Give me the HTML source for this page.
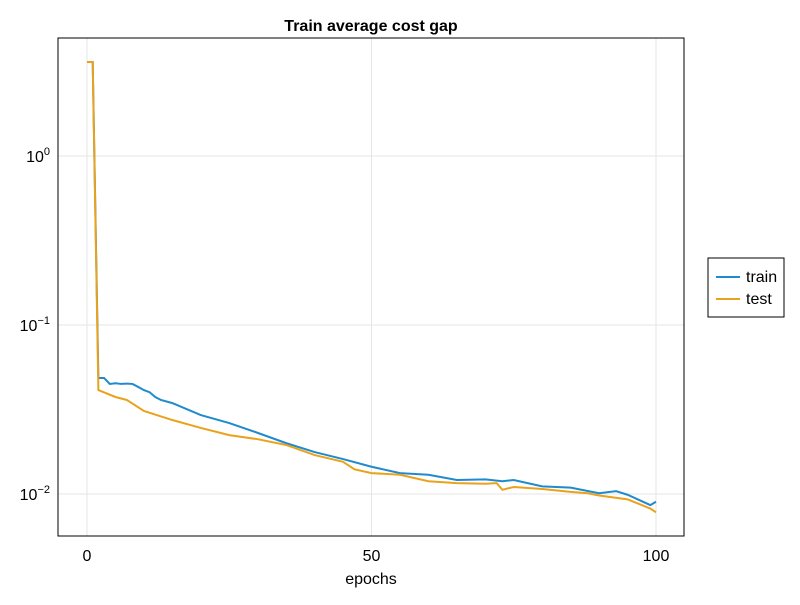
<!DOCTYPE html>
<html><head><meta charset="utf-8"><style>
body{margin:0;background:#fff;font-family:"Liberation Sans",sans-serif}
</style></head><body>
<svg width="800" height="600" id="c" xmlns="http://www.w3.org/2000/svg" font-family="Liberation Sans, sans-serif">
<text x="371" y="31" text-anchor="middle" font-weight="bold" font-size="16">Train average cost gap</text>
<g id="grid"></g>
<g id="lines"></g>
<rect x="58" y="38" width="626" height="498" fill="none" stroke="#000" stroke-width="1"/>
<g id="ticks" font-size="16"></g>
<text x="371" y="584" text-anchor="middle" font-size="16">epochs</text>
<g>
<rect x="708" y="258" width="76" height="59" fill="#fff" stroke="#000"/>
<line x1="716" x2="740" y1="277" y2="277" stroke="#1f8bcc" stroke-width="2"/>
<text x="746" y="282" font-size="16">train</text>
<line x1="716" x2="740" y1="299" y2="299" stroke="#eaa21d" stroke-width="2"/>
<text x="746" y="304" font-size="16">test</text>
</g>
</svg>
<script>
const trainEpochs=[0,1,2,3,4,5,6,7,8,9,10,11,12,13,15,20,25,30,35,40,45,50,55,60,65,70,73,75,80,85,90,93,95,99,100];
const trainValues=[3.6,3.6,0.0486,0.0486,0.0448,0.0452,0.0448,0.0450,0.0448,0.0430,0.0412,0.0400,0.0375,0.0360,0.0345,0.0293,0.0263,0.0230,0.0200,0.0177,0.0161,0.0145,0.0133,0.0130,0.0121,0.0122,0.0119,0.0121,0.0111,0.0109,0.0101,0.0104,0.0099,0.0086,0.0090];
const testEpochs=[0,1,2,5,7,10,15,20,25,30,35,40,45,47,50,55,60,65,70,72,73,75,80,85,88,90,95,99,100];
const testValues=[3.6,3.6,0.0412,0.0375,0.0360,0.0310,0.0274,0.0246,0.0223,0.0211,0.0195,0.0170,0.0155,0.0140,0.0133,0.0130,0.0119,0.0116,0.0115,0.0116,0.0106,0.0110,0.0107,0.0103,0.0101,0.0098,0.0093,0.0082,0.0078];
const xTicks=[0,50,100];
const yTickExps=[0,-1,-2];
const ns="http://www.w3.org/2000/svg";
const X=v=>87+v*5.69;
const Y=v=>156-Math.log10(v)*169;
const grid=document.getElementById('grid'),ticks=document.getElementById('ticks'),lines=document.getElementById('lines');
xTicks.forEach(t=>{
 const l=document.createElementNS(ns,'line');
 l.setAttribute('x1',X(t));l.setAttribute('x2',X(t));l.setAttribute('y1',38);l.setAttribute('y2',536);
 l.setAttribute('stroke','#e6e6e6');
 
 
 grid.appendChild(l);
 const tx=document.createElementNS(ns,'text');
 tx.setAttribute('x',X(t));tx.setAttribute('y',561);tx.setAttribute('text-anchor','middle');
 tx.textContent=t;
 
 
 ticks.appendChild(tx);
});
yTickExps.forEach(e=>{
 const y=Y(Math.pow(10,e));
 const l=document.createElementNS(ns,'line');
 l.setAttribute('x1',58);l.setAttribute('x2',684);l.setAttribute('y1',y);l.setAttribute('y2',y);
 l.setAttribute('stroke','#e6e6e6');
 
 
 grid.appendChild(l);
 const tx=document.createElementNS(ns,'text');
 tx.setAttribute('x',50);tx.setAttribute('y',y+6);tx.setAttribute('text-anchor','end');
 tx.innerHTML='10<tspan dy="-7" font-size="11">'+(e<0?'\u2212'+(-e):e)+'</tspan>';
 
 
 ticks.appendChild(tx);
});
function draw(xs,vs,color,name){
 const p=document.createElementNS(ns,'polyline');
 p.setAttribute('points',xs.map((e,i)=>X(e)+','+Y(vs[i])).join(' '));
 p.setAttribute('fill','none');p.setAttribute('stroke',color);p.setAttribute('stroke-width','2');
 
 
 lines.appendChild(p);
}
draw(trainEpochs,trainValues,'#1f8bcc','train-line');
draw(testEpochs,testValues,'#eaa21d','test-line');
</script>
</body></html>
